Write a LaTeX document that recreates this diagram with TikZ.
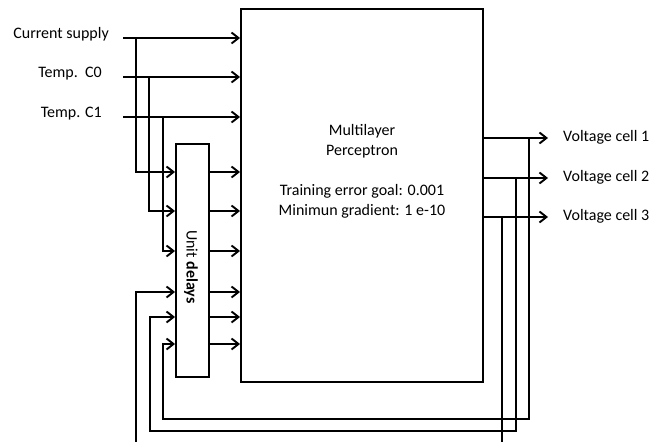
\documentclass[tikz,border=0pt]{standalone}
\usepackage{fontspec}
\setmainfont{Carlito}
\usetikzlibrary{arrows.meta, positioning}

\begin{document}
\begin{tikzpicture}[x=1pt, y=-1pt, >={Straight Barb[length=7pt, width=11pt]},
  box/.style={rectangle, draw, line width=1.9pt, inner sep=0pt, fill=white},
  txt/.style={font=\fontsize{16}{20}\selectfont, inner sep=0pt},
  line/.style={draw, ->, line width=1.9pt}]

  \useasboundingbox (0,0) rectangle (654,442);

  % blocks
  \node [box, minimum width=242pt, minimum height=373pt] (mlp) at (362,195.5) {};
  \node [txt, align=center] (mlptext) at (362,171) {Multilayer\\Perceptron\\[20pt]Training error goal: 0.001\\Minimun gradient: 1 e-10};
  \node [box, minimum width=33pt, minimum height=233pt] (delay) at (192.5,260.5) {};
  \node [txt, rotate=-90] (delaytext) at (191,267) {Unit \textbf{delays}};

  % input labels
  \node [txt, anchor=base east] (current) at (109,38) {Current supply};
  \node [txt, anchor=base east] (tempzero) at (102,77) {Temp.\ \ C0};
  \node [txt, anchor=base east] (tempone) at (102,117) {Temp. C1};
  \coordinate (in1) at (123,38);
  \coordinate (in2) at (123,77);
  \coordinate (in3) at (123,117);

  % rows of the delay block
  \coordinate (r1) at (delay.west |- 0,172);
  \coordinate (r2) at (delay.west |- 0,211);
  \coordinate (r3) at (delay.west |- 0,251);
  \coordinate (r4) at (delay.west |- 0,292);
  \coordinate (r5) at (delay.west |- 0,317);
  \coordinate (r6) at (delay.west |- 0,344);

  % output labels
  \coordinate (o1) at (548,138);
  \coordinate (o2) at (548,178);
  \coordinate (o3) at (548,217);
  \node [txt, anchor=base west] (cell1) at (563,141) {Voltage cell 1};
  \node [txt, anchor=base west] (cell2) at (563,181) {Voltage cell 2};
  \node [txt, anchor=base west] (cell3) at (563,220) {Voltage cell 3};

  % direct inputs
  \path [line] (in1) -- (in1 -| mlp.west);
  \path [line] (in2) -- (in2 -| mlp.west);
  \path [line] (in3) -- (in3 -| mlp.west);

  % inputs into the delays
  \path [line] (136,38) |- (r1);
  \path [line] (149,77) |- (r2);
  \path [line] (163,117) |- (r3);

  % delays into the perceptron
  \foreach \r in {r1,r2,r3,r4,r5,r6}
    \path [line] (\r -| delay.east) -- (\r -| mlp.west);

  % outputs
  \path [line] (o1 -| mlp.east) -- (o1);
  \path [line] (o2 -| mlp.east) -- (o2);
  \path [line] (o3 -| mlp.east) -- (o3);

  % feedback
  \coordinate (fb1) at (163,419);
  \coordinate (fb2) at (150,431);
  \coordinate (fb3) at (136,447);
  \path [line] (529,138) |- (fb1) |- (r6);
  \path [line] (516,178) |- (fb2) |- (r5);
  \path [line] (502,217) |- (fb3) |- (r4);
\end{tikzpicture}
\end{document}
